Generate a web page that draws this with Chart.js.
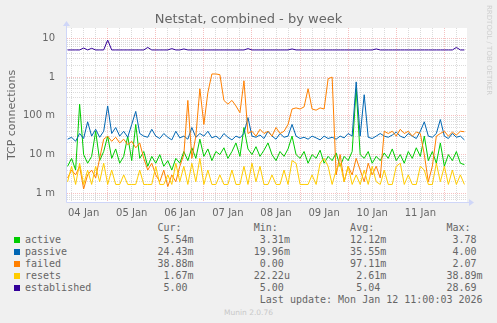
<!DOCTYPE html>
<html>
<head>
<meta charset="utf-8">
<script src="https://cdn.jsdelivr.net/npm/chart.js@4.4.1/dist/chart.umd.min.js"></script>
<style>
  body { margin: 0; background: #f0f0f0; width: 497px; height: 323px; overflow: hidden; position: relative; font-family: "DejaVu Sans", sans-serif; color: #666; }
  #chart { position: absolute; left: 0; top: 0; }
  #title { position: absolute; left: 0; width: 497px; top: 11px; text-align: center; font-size: 13px; line-height: 16px; }
  #side { position: absolute; left: 485px; top: 5px; writing-mode: vertical-rl; font-size: 7px; color: #cfcfcf; letter-spacing: 0; }
  #legend { position: absolute; left: 25px; top: 222px; margin: 0; font-family: "DejaVu Sans Mono", monospace; font-size: 10px; line-height: 12px; color: #666; }
  .sw { position: absolute; left: 14px; width: 6px; height: 6px; }
  #munin { position: absolute; left: 0; width: 497px; top: 308px; text-align: center; font-size: 7.5px; color: #c8c8c8; }
</style>
</head>
<body>
<canvas id="chart" width="497" height="222"></canvas>
<div id="title">Netstat, combined - by week</div>
<div id="side">RRDTOOL / TOBI OETIKER</div>
<pre id="legend"></pre>
<div id="munin">Munin 2.0.76</div>
<script>
// samples every 2 hours, starting 04 Jan 04:00 (hours counted from 04 Jan 00:00)
const sampleStart = 4;
const sampleStep = 2;

const dayLabels = ['04 Jan', '05 Jan', '06 Jan', '07 Jan', '08 Jan', '09 Jan', '10 Jan', '11 Jan'];
const decadeValues = [10, 1, 0.1, 0.01, 0.001];
const decadeLabels = ['10', '1', '100 m', '10 m', '1 m'];

const seriesNames = ['active', 'passive', 'failed', 'resets', 'established'];
const seriesColors = ['#00cc00', '#0066b3', '#ff8000', '#ffcc00', '#330099'];
const curText = [' 5.54m', '24.43m', '38.88m', ' 1.67m', ' 5.00'];
const minText = [' 3.31m', '19.96m', ' 0.00', '22.22u', ' 5.00'];
const avgText = ['12.12m', '35.55m', '97.11m', ' 2.61m', ' 5.04'];
const maxText = [' 3.78', ' 4.00', ' 2.07', '38.89m', '28.69'];

const active = [
  0.005, 0.008, 0.004, 0.2, 0.010, 0.006, 0.009, 0.040, 0.007, 0.012,
  0.030, 0.008, 0.014, 0.006, 0.009, 0.030, 0.007, 0.060, 0.008, 0.012,
  0.005, 0.009, 0.006, 0.010, 0.005, 0.007, 0.004, 0.008, 0.006, 0.012,
  0.007, 0.015, 0.008, 0.025, 0.009, 0.014, 0.007, 0.012, 0.010, 0.015,
  0.008, 0.012, 0.020, 0.009, 0.050, 0.014, 0.010, 0.016, 0.009, 0.013,
  0.020, 0.010, 0.007, 0.012, 0.009, 0.014, 0.030, 0.010, 0.008, 0.012,
  0.006, 0.010, 0.008, 0.013, 0.006, 0.009, 0.007, 0.011, 0.005, 0.009,
  0.007, 0.012, 0.5, 0.010, 0.008, 0.012, 0.006, 0.009, 0.007, 0.011,
  0.008, 0.014, 0.007, 0.010, 0.006, 0.012, 0.008, 0.015, 0.009, 0.030,
  0.007, 0.012, 0.006, 0.020, 0.005, 0.010, 0.007, 0.012, 0.006, 0.0055
];
const passive = [
  0.025, 0.028, 0.022, 0.035, 0.026, 0.070, 0.030, 0.045, 0.028, 0.040,
  0.180, 0.035, 0.050, 0.030, 0.040, 0.028, 0.060, 0.130, 0.035, 0.030,
  0.028, 0.045, 0.030, 0.026, 0.035, 0.028, 0.024, 0.040, 0.027, 0.030,
  0.025, 0.050, 0.028, 0.035, 0.030, 0.040, 0.027, 0.030, 0.025, 0.035,
  0.028, 0.024, 0.030, 0.027, 0.035, 0.090, 0.030, 0.028, 0.032, 0.026,
  0.040, 0.030, 0.025, 0.035, 0.028, 0.030, 0.060, 0.030, 0.026, 0.028,
  0.025, 0.030, 0.027, 0.024, 0.030, 0.026, 0.028, 0.025, 0.030, 0.027,
  0.035, 0.030, 0.75, 0.030, 0.35, 0.028, 0.026, 0.030, 0.035, 0.030,
  0.028, 0.032, 0.038, 0.030, 0.027, 0.035, 0.030, 0.026, 0.040, 0.070,
  0.030, 0.028, 0.035, 0.080, 0.030, 0.026, 0.035, 0.028, 0.030, 0.024
];
const failed = [
  0.0025, 0.004, 0.003, 0.005, 0.0013, 0.003, 0.004, 0.0025, 0.008, 0.025,
  0.030, 0.022, 0.028, 0.020, 0.025, 0.018, 0.022, 0.015, 0.020, 0.008,
  0.004, 0.006, 0.003, 0.002, 0.004, 0.0015, 0.003, 0.002, 0.005, 0.010,
  0.25, 0.008, 0.030, 0.5, 0.060, 0.4, 1.2, 1.2, 1.15, 0.25,
  0.20, 0.25, 0.18, 0.12, 0.8, 0.035, 0.040, 0.030, 0.045, 0.035,
  0.040, 0.030, 0.050, 0.035, 0.040, 0.060, 0.15, 0.16, 0.15, 0.17,
  0.5, 0.15, 0.14, 0.16, 0.15, 0.9, 1.0, 0.003, 0.010, 0.002,
  0.005, 0.003, 0.008, 0.004, 0.002, 0.006, 0.003, 0.005, 0.0025, 0.040,
  0.035, 0.040, 0.030, 0.045, 0.035, 0.040, 0.030, 0.038, 0.035, 0.010,
  0.002, 0.005, 0.030, 0.035, 0.040, 0.030, 0.038, 0.032, 0.040, 0.0389
];
const resets = [
  0.002, 0.005, 0.0017, 0.006, 0.0017, 0.004, 0.0017, 0.005, 0.002, 0.006,
  0.0017, 0.004, 0.0017, 0.0017, 0.003, 0.0017, 0.0017, 0.0017, 0.004, 0.0017,
  0.0017, 0.0017, 0.005, 0.0017, 0.0017, 0.003, 0.0017, 0.006, 0.002, 0.005,
  0.0017, 0.006, 0.002, 0.008, 0.0017, 0.004, 0.0017, 0.0017, 0.003, 0.0017,
  0.0017, 0.004, 0.0017, 0.0017, 0.005, 0.0017, 0.006, 0.002, 0.005, 0.0017,
  0.0017, 0.003, 0.0017, 0.0017, 0.004, 0.0017, 0.007, 0.006, 0.0017, 0.0017,
  0.0017, 0.003, 0.0017, 0.006, 0.008, 0.005, 0.0017, 0.004, 0.006, 0.002,
  0.005, 0.0017, 0.003, 0.0017, 0.004, 0.0017, 0.005, 0.002, 0.0017, 0.004,
  0.0017, 0.0017, 0.005, 0.006, 0.0017, 0.003, 0.0017, 0.0017, 0.005, 0.004,
  0.0017, 0.0017, 0.006, 0.002, 0.005, 0.0017, 0.004, 0.0017, 0.003, 0.0017
];
const established = [
  5, 5, 5, 5, 5.6, 5, 5.5, 5, 5, 5,
  9, 5, 5, 5, 5, 5, 5, 5, 5, 5,
  5.8, 5, 5, 5, 5, 5, 5.4, 5, 5, 5.3,
  5, 5, 5, 5, 5, 5, 5, 5, 5, 5,
  5, 5, 5, 5, 5, 5.4, 5, 5, 5, 5,
  5, 5, 5, 5, 5, 5, 5.3, 5, 5, 5,
  5, 5, 5, 5, 5, 5, 5, 5, 5, 5,
  5, 5, 5, 5, 5, 5, 5, 5.3, 5, 5,
  5, 5, 5, 5, 5, 5, 5, 5, 5, 5,
  5, 5, 5, 5, 5, 5, 5, 5.8, 5, 5
];
const seriesData = [active, passive, failed, resets, established];

// legend text
const legendLines = [' '.repeat(22) + 'Cur:'.padEnd(16) + 'Min:'.padEnd(16) + 'Avg:'.padEnd(16) + 'Max:'];
seriesNames.forEach((n, i) => {
  legendLines.push(n.padEnd(22) + curText[i].padEnd(16) + minText[i].padEnd(16) + avgText[i].padEnd(16) + maxText[i]);
  const sw = document.createElement('div');
  sw.className = 'sw';
  sw.style.top = (237 + 12 * i) + 'px';
  sw.style.background = seriesColors[i];
  document.body.appendChild(sw);
});
legendLines.push(' '.repeat(39) + 'Last update: Mon Jan 12 11:00:03 2026');
document.getElementById('legend').textContent = legendLines.join('\n');

const isDecade = v => Math.abs(Math.log10(v) - Math.round(Math.log10(v))) < 1e-9;
const majorGrid = 'rgba(230, 100, 100, 0.4)';
const minorGrid = 'rgba(160, 160, 160, 0.38)';

const canvasBg = {
  id: 'canvasBg',
  beforeDraw(chart) {
    const a = chart.chartArea, ctx = chart.ctx;
    ctx.save();
    ctx.fillStyle = '#ffffff';
    ctx.fillRect(a.left, a.top, a.right - a.left, a.bottom - a.top);
    ctx.restore();
  },
  afterDraw(chart) {
    const a = chart.chartArea, ctx = chart.ctx;
    ctx.save();
    ctx.strokeStyle = '#cfd6f8';
    ctx.fillStyle = '#cfd6f8';
    ctx.lineWidth = 1;
    ctx.beginPath();
    ctx.moveTo(a.left - 0.5, a.bottom + 0.5);
    ctx.lineTo(a.right + 3, a.bottom + 0.5);
    ctx.moveTo(a.left - 0.5, a.bottom + 0.5);
    ctx.lineTo(a.left - 0.5, a.top - 3);
    ctx.stroke();
    ctx.beginPath();
    ctx.moveTo(a.right + 2, a.bottom - 3);
    ctx.lineTo(a.right + 7, a.bottom + 0.5);
    ctx.lineTo(a.right + 2, a.bottom + 4);
    ctx.closePath();
    ctx.fill();
    ctx.beginPath();
    ctx.moveTo(a.left - 4, a.top - 2);
    ctx.lineTo(a.left - 0.5, a.top - 7);
    ctx.lineTo(a.left + 3, a.top - 2);
    ctx.closePath();
    ctx.fill();
    ctx.restore();
  }
};

const datasets = seriesNames.map((n, i) => ({
  label: n,
  data: seriesData[i].map((v, k) => ({ x: sampleStart + k * sampleStep, y: v })),
  borderColor: seriesColors[i],
  borderWidth: 1,
  pointRadius: 0,
  tension: 0,
  fill: false,
  order: seriesNames.length - i
}));

new Chart(document.getElementById('chart'), {
  type: 'line',
  data: { datasets },
  options: {
    responsive: false,
    animation: false,
    devicePixelRatio: 1,
    layout: { padding: { top: 28, right: 30, left: 0, bottom: 0 } },
    plugins: { legend: { display: false }, tooltip: { enabled: false } },
    scales: {
      x: {
        type: 'linear',
        min: 3.7,
        max: 203.3,
        afterBuildTicks: s => {
          const t = [];
          for (let h = 6; h < 203; h += 6) t.push({ value: h });
          s.ticks = t;
        },
        afterFit: s => { s.height = 20; },
        ticks: {
          autoSkip: false, maxRotation: 0, padding: 5, color: '#666',
          font: { family: 'DejaVu Sans', size: 10 },
          callback: v => (v % 24 === 12 ? dayLabels[(v - 12) / 24] : '')
        },
        grid: {
          drawTicks: false,
          color: c => (c.tick && c.tick.value % 24 === 0 ? majorGrid : minorGrid)
        },
        border: { display: false, dash: [1, 1] }
      },
      y: {
        type: 'logarithmic',
        min: 0.000635,
        max: 18.4,
        afterBuildTicks: s => {
          const t = [];
          for (let e = -4; e <= 1; e++) {
            for (let m = 1; m <= 9; m++) {
              const v = parseFloat((m * Math.pow(10, e)).toPrecision(3));
              if (v >= s.min && v <= s.max) t.push({ value: v });
            }
          }
          s.ticks = t;
        },
        afterFit: s => { s.width = 67; },
        ticks: {
          autoSkip: false, padding: 12, color: '#666',
          font: { family: 'DejaVu Sans', size: 10 },
          callback: v => {
            const k = decadeValues.findIndex(d => Math.abs(d - v) / d < 1e-6);
            return k >= 0 ? decadeLabels[k] : '';
          }
        },
        title: {
          display: true, text: 'TCP connections', color: '#666',
          font: { family: 'DejaVu Sans', size: 11 },
          padding: { top: 6, bottom: 0 }
        },
        grid: {
          drawTicks: false,
          color: c => (c.tick && isDecade(c.tick.value) ? majorGrid : minorGrid)
        },
        border: { display: false, dash: [1, 1] }
      }
    }
  },
  plugins: [canvasBg]
});
</script>
</body>
</html>
